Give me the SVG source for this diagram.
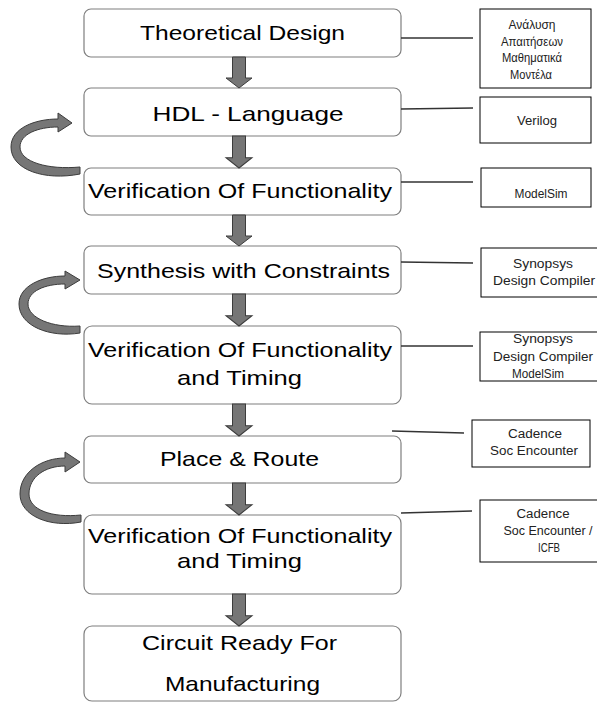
<svg xmlns="http://www.w3.org/2000/svg" width="597" height="702" viewBox="0 0 597 702">
  <style>
    .step rect { fill: #ffffff; stroke: #7f7f7f; stroke-width: 1.2; }
    .step text { font-family: "Liberation Sans", Arial, sans-serif; font-size: 21px; fill: #000000; text-anchor: middle; }
    .tool rect { fill: #ffffff; stroke: #000000; stroke-width: 1; }
    .tool text { font-family: "Liberation Sans", Arial, sans-serif; font-size: 12px; fill: #222222; text-anchor: middle; }
    .link { stroke: #333333; stroke-width: 1.3; fill: none; }
    .flow { fill: #767676; stroke: #3c3c3c; stroke-width: 1; stroke-linejoin: miter; }
  </style>
  <defs>
    <!-- block arrow pointing down, tip at origin -->
    <path id="down" d="M -6.5 -31 L 6.5 -31 L 6.5 -10 L 13 -10 L 0 0 L -13 -10 L -6.5 -10 Z"/>
  </defs>

  <rect x="0" y="0" width="597" height="702" fill="#ffffff"/>

  <!-- process steps -->
  <g id="step-theory" class="step">
    <rect x="84" y="9" width="317" height="48" rx="7"/>
    <text x="242.5" y="40" textLength="205" lengthAdjust="spacingAndGlyphs">Theoretical Design</text>
  </g>
  <g id="step-hdl" class="step">
    <rect x="84" y="88" width="317" height="48" rx="7"/>
    <text x="248" y="121" textLength="191" lengthAdjust="spacingAndGlyphs">HDL - Language</text>
  </g>
  <g id="step-verify1" class="step">
    <rect x="84" y="168" width="317" height="47" rx="7"/>
    <text x="240" y="198" textLength="304" lengthAdjust="spacingAndGlyphs">Verification Of Functionality</text>
  </g>
  <g id="step-synthesis" class="step">
    <rect x="84" y="246" width="317" height="48" rx="7"/>
    <text x="243.5" y="278" textLength="293" lengthAdjust="spacingAndGlyphs">Synthesis with Constraints</text>
  </g>
  <g id="step-verify2" class="step">
    <rect x="84" y="326" width="317" height="78" rx="8"/>
    <text x="240" y="357" textLength="304" lengthAdjust="spacingAndGlyphs">Verification Of Functionality</text>
    <text x="239.5" y="385" textLength="125" lengthAdjust="spacingAndGlyphs">and Timing</text>
  </g>
  <g id="step-pnr" class="step">
    <rect x="84" y="436" width="317" height="47" rx="7"/>
    <text x="239.5" y="466" textLength="159" lengthAdjust="spacingAndGlyphs">Place &amp; Route</text>
  </g>
  <g id="step-verify3" class="step">
    <rect x="84" y="515" width="317" height="79" rx="8"/>
    <text x="240" y="543" textLength="304" lengthAdjust="spacingAndGlyphs">Verification Of Functionality</text>
    <text x="239.5" y="568" textLength="125" lengthAdjust="spacingAndGlyphs">and Timing</text>
  </g>
  <g id="step-ready" class="step">
    <rect x="84" y="626" width="317" height="75" rx="8"/>
    <text x="239.5" y="650" textLength="195" lengthAdjust="spacingAndGlyphs">Circuit Ready For</text>
    <text x="242.5" y="691" textLength="155" lengthAdjust="spacingAndGlyphs">Manufacturing</text>
  </g>

  <!-- tool boxes -->
  <g id="tool-analysis" class="tool">
    <rect x="480" y="9" width="111" height="79"/>
    <text x="532" y="29" textLength="47" lengthAdjust="spacingAndGlyphs">Ανάλυση</text>
    <text x="532" y="46" textLength="62" lengthAdjust="spacingAndGlyphs">Απαιτήσεων</text>
    <text x="532" y="62" textLength="60" lengthAdjust="spacingAndGlyphs">Μαθηματικά</text>
    <text x="531" y="79" textLength="42" lengthAdjust="spacingAndGlyphs">Μοντέλα</text>
  </g>
  <g id="tool-verilog" class="tool">
    <rect x="480" y="97" width="111" height="46"/>
    <text x="537" y="125" textLength="40" lengthAdjust="spacingAndGlyphs">Verilog</text>
  </g>
  <g id="tool-modelsim" class="tool">
    <rect x="481" y="168" width="110" height="39"/>
    <text x="541" y="198" textLength="53" lengthAdjust="spacingAndGlyphs">ModelSim</text>
  </g>
  <g id="tool-dc" class="tool">
    <rect x="481" y="248" width="126" height="49"/>
    <text x="543" y="268" textLength="60" lengthAdjust="spacingAndGlyphs">Synopsys</text>
    <text x="544" y="285" textLength="102" lengthAdjust="spacingAndGlyphs">Design Compiler</text>
  </g>
  <g id="tool-dc-modelsim" class="tool">
    <rect x="480" y="332" width="127" height="49"/>
    <text x="543" y="343" textLength="60" lengthAdjust="spacingAndGlyphs">Synopsys</text>
    <text x="543" y="361" textLength="100" lengthAdjust="spacingAndGlyphs">Design Compiler</text>
    <text x="538" y="378" textLength="52" lengthAdjust="spacingAndGlyphs">ModelSim</text>
  </g>
  <g id="tool-soc" class="tool">
    <rect x="472" y="420" width="118" height="47"/>
    <text x="535" y="438" textLength="54" lengthAdjust="spacingAndGlyphs">Cadence</text>
    <text x="534" y="455" textLength="88" lengthAdjust="spacingAndGlyphs">Soc Encounter</text>
  </g>
  <g id="tool-soc-icfb" class="tool">
    <rect x="480" y="500" width="127" height="62"/>
    <text x="543" y="518" textLength="53" lengthAdjust="spacingAndGlyphs">Cadence</text>
    <text x="548" y="535" textLength="89" lengthAdjust="spacingAndGlyphs">Soc Encounter /</text>
    <text x="549" y="552" textLength="22" lengthAdjust="spacingAndGlyphs">ICFB</text>
  </g>

  <!-- connectors -->
  <g id="connectors">
    <!-- step to tool links -->
    <line class="link" x1="401" y1="38" x2="473" y2="38"/>
    <line class="link" x1="401" y1="109" x2="473" y2="108"/>
    <line class="link" x1="401" y1="182" x2="473" y2="182"/>
    <line class="link" x1="401" y1="262" x2="473" y2="263"/>
    <line class="link" x1="401" y1="346" x2="473" y2="346"/>
    <line class="link" x1="392" y1="431" x2="464" y2="433"/>
    <line class="link" x1="401" y1="513" x2="472" y2="511"/>

    <!-- downward flow arrows -->
    <use href="#down" class="flow" transform="translate(239 88)"/>
    <use href="#down" class="flow" transform="translate(239 168) scale(1 1.03)"/>
    <use href="#down" class="flow" transform="translate(239 246)"/>
    <use href="#down" class="flow" transform="translate(239 326) scale(1 1.03)"/>
    <use href="#down" class="flow" transform="translate(239 436) scale(1 1.03)"/>
    <use href="#down" class="flow" transform="translate(239 515) scale(1 1.03)"/>
    <use href="#down" class="flow" transform="translate(239 626) scale(1 1.03)"/>

    <!-- feedback loops -->
    <path class="flow" d="M 80 174 C 45 181, 11 170, 11 147 C 11 128, 35 119, 58 119 L 58 113 L 72 123 L 58 132 L 58 127 C 38 127, 20 134, 20 147 C 20 162, 48 170, 80 167 Z"/>
    <path class="flow" d="M 80 333 C 50 338, 19 326, 19 304 C 19 286, 42 276, 65 276 L 65 271 L 80 280 L 65 289 L 65 284 C 45 284, 28 291, 28 304 C 28 318, 52 328, 80 326 Z"/>
    <path class="flow" d="M 81 522 C 50 528, 20 516, 20 494 C 20 472, 42 458, 65 458 L 65 452 L 80 462 L 65 472 L 65 466 C 45 466, 29 477, 29 494 C 29 510, 52 518, 81 515 Z"/>
  </g>
</svg>
